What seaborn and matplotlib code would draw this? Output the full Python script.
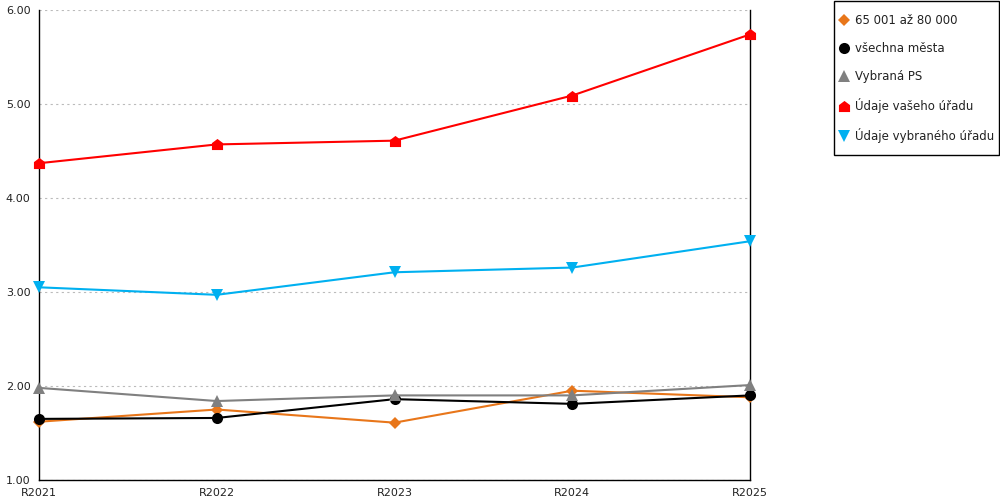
import matplotlib
matplotlib.use("Agg")
import matplotlib.pyplot as plt
from matplotlib.lines import Line2D
from matplotlib.patches import Rectangle
from matplotlib.ticker import MultipleLocator, FixedLocator
import seaborn as sns
import pandas as pd
import numpy as np

years = ["R2021", "R2022", "R2023", "R2024", "R2025"]
series_names = ["65 001 až 80 000", "všechna města", "Vybraná PS",
                "Údaje vašeho úřadu", "Údaje vybraného úřadu"]
v_65_80 = [1.62, 1.75, 1.61, 1.95, 1.88]
v_vsechna = [1.65, 1.66, 1.86, 1.81, 1.90]
v_ps = [1.98, 1.84, 1.90, 1.90, 2.01]
v_vaseho = [4.37, 4.57, 4.61, 5.09, 5.74]
v_vybraneho = [3.05, 2.97, 3.21, 3.26, 3.54]
values = [v_65_80, v_vsechna, v_ps, v_vaseho, v_vybraneho]

colors = ["#E8761A", "#000000", "#808080", "#FF0000", "#00B0F0"]
house = [(-1, -1), (1, -1), (1, 0.25), (0, 1), (-1, 0.25), (-1, -1)]
markers = ["D", "o", "^", house, "v"]
msizes = [6, 8, 8, 8, 8]

rows = []
for name, vals in zip(series_names, values):
    for i, (yr, v) in enumerate(zip(years, vals)):
        rows.append({"series": name, "pos": i, "year": yr, "value": v})
df = pd.DataFrame(rows)

sns.set_style("white")
plt.rcParams["font.family"] = ["DejaVu Sans"]

fig = plt.figure(figsize=(10, 5), dpi=100)
ax = fig.add_axes([0.039, 0.04, 0.711, 0.94])

for name, col, mk, ms in zip(series_names, colors, markers, msizes):
    sub = df[df["series"] == name]
    sns.lineplot(data=sub, x="pos", y="value", ax=ax, color=col,
                 marker=mk, markersize=ms, markeredgewidth=0,
                 linewidth=1.5, legend=False, clip_on=False, zorder=3)

ax.set_xlim(0, len(years) - 1)
ax.set_ylim(1, 6)
ax.set_xlabel("")
ax.set_ylabel("")
ax.set_xticks(range(len(years)))
ax.set_xticklabels(years)
ax.xaxis.set_minor_locator(FixedLocator(np.arange(0.5, len(years) - 1, 1.0)))
ax.yaxis.set_major_locator(MultipleLocator(1))
ax.set_yticklabels([f"{t:.2f}" for t in ax.get_yticks()])
ax.tick_params(axis="x", which="both", direction="inout", length=9, width=1,
               color="black", labelsize=8, pad=1, labelcolor="#222222")
ax.tick_params(axis="y", which="major", direction="out", length=4, width=1,
               color="black", labelsize=8, pad=2, labelcolor="#222222")
ax.tick_params(axis="x", which="minor", labelbottom=False)

ax.yaxis.grid(True, linestyle=(0, (2, 3)), color="#BBBBBB", linewidth=0.8)
ax.xaxis.grid(False)
ax.set_axisbelow(True)
for s in ["left", "bottom", "right"]:
    ax.spines[s].set_visible(True)
    ax.spines[s].set_color("black")
    ax.spines[s].set_linewidth(1)
ax.spines["top"].set_visible(False)

# legend frame
fig.patches.append(Rectangle((0.834, 0.69), 0.165, 0.308, transform=fig.transFigure,
                             fill=False, edgecolor="black", linewidth=1))

handles = [Line2D([0], [0], color=c, marker=m, markersize=ms, linestyle="none",
                  markeredgewidth=0)
           for c, m, ms in zip(colors, markers, msizes)]
leg = fig.legend(handles, series_names, loc="upper left",
                 bbox_to_anchor=(0.8393, 0.972), frameon=False,
                 fontsize=8.5, handlelength=0.8,
                 handletextpad=0.5, labelspacing=1.28, borderpad=0,
                 borderaxespad=0)
for t in leg.get_texts():
    t.set_color("#222222")

fig.savefig("out.png", dpi=100)
